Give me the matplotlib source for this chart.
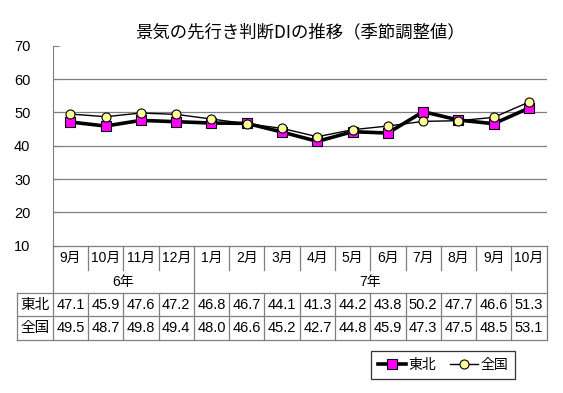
import matplotlib.pyplot as plt
from matplotlib.lines import Line2D
import matplotlib.transforms as mtransforms

plt.rcParams['font.family'] = ['Liberation Sans', 'Noto Sans CJK JP']

months = ['9月', '10月', '11月', '12月', '1月', '2月', '3月', '4月',
          '5月', '6月', '7月', '8月', '9月', '10月']
years = ['6年', '7年']
year_spans = [(0, 3), (4, 13)]
tohoku = [47.1, 45.9, 47.6, 47.2, 46.8, 46.7, 44.1, 41.3, 44.2, 43.8, 50.2, 47.7, 46.6, 51.3]
zenkoku = [49.5, 48.7, 49.8, 49.4, 48.0, 46.6, 45.2, 42.7, 44.8, 45.9, 47.3, 47.5, 48.5, 53.1]
series_names = ['東北', '全国']

grid_c = '#7f7f7f'

fig = plt.figure(figsize=(5.63, 3.93), dpi=100)
ax = fig.add_axes([0.0936, 0.3748, 0.8774, 0.5089])

x = list(range(len(months)))
ax.plot(x, tohoku, color='black', lw=2.6, marker='s', ms=6.5,
        mfc='#ff00ff', mec='black', mew=0.8, zorder=3)
ax.plot(x, zenkoku, color='black', lw=1.0, marker='o', ms=6.5,
        mfc='#ffff99', mec='black', mew=0.8, zorder=4)

ax.set_xlim(-0.5, len(months) - 0.5)
ax.set_ylim(10, 70)
ax.set_yticks(range(10, 71, 10))
ax.set_xticks([])
for s in ['top', 'right', 'bottom']:
    ax.spines[s].set_visible(False)
ax.spines['left'].set_color(grid_c)
ax.tick_params(axis='y', direction='in', length=4, color=grid_c,
               labelsize=10.5, pad=16)
for v in range(20, 70, 10):
    ax.axhline(v, color=grid_c, lw=0.9, zorder=1)

ax.set_title('景気の先行き判断DIの推移（季節調整値）', fontsize=12.5,
             family=['Noto Sans CJK JP'], pad=6)

# category / data table below the plot
tr = mtransforms.blended_transform_factory(ax.transData, ax.transAxes)
n = len(months)
y_month, y_sep, y_year = -0.0615, -0.1215, -0.18
y_top, y_mid, y_bot = -0.238, -0.35, -0.469
y_row1, y_row2 = -0.294, -0.409
fs = 10.5

def hline(y, x0, x1):
    ax.plot([x0, x1], [y, y], color=grid_c, lw=0.9, transform=tr, clip_on=False)

def vline(xv, y0, y1):
    ax.plot([xv, xv], [y0, y1], color=grid_c, lw=0.9, transform=tr, clip_on=False)

hline(0, -0.5, n - 0.5)
hline(y_top, -1.5, n - 0.5)
hline(y_mid, -1.5, n - 0.5)
hline(y_bot, -1.5, n - 0.5)
vline(-1.5, y_top, y_bot)
vline(-0.5, 0, y_bot)
vline(n - 0.5, 0, y_bot)
for k in range(1, n):
    vline(k - 0.5, y_top, y_bot)
    if k == year_spans[1][0]:
        vline(k - 0.5, 0, y_top)
    else:
        vline(k - 0.5, 0, y_sep)

for i, m in enumerate(months):
    ax.text(i, y_month, m, ha='center', va='center', fontsize=10, transform=tr)
    ax.text(i, y_row1, f'{tohoku[i]:.1f}', ha='center', va='center', fontsize=fs, transform=tr)
    ax.text(i, y_row2, f'{zenkoku[i]:.1f}', ha='center', va='center', fontsize=fs, transform=tr)
for yl, (a, b) in zip(years, year_spans):
    ax.text((a + b) / 2, y_year, yl, ha='center', va='center', fontsize=10, transform=tr)
ax.text(-1, y_row1, series_names[0], ha='center', va='center', fontsize=10.5, transform=tr)
ax.text(-1, y_row2, series_names[1], ha='center', va='center', fontsize=10.5, transform=tr)

handles = [
    Line2D([], [], color='black', lw=2.6, marker='s', ms=6.5, mfc='#ff00ff', mec='black', mew=0.8),
    Line2D([], [], color='black', lw=1.0, marker='o', ms=6.5, mfc='#ffff99', mec='black', mew=0.8),
]
leg = fig.legend(handles, series_names, loc='center', bbox_to_anchor=(0.787, 0.0712),
                 ncol=2, fontsize=10, frameon=True, fancybox=False, handlelength=2.0,
                 handletextpad=0.2, columnspacing=1.0, borderpad=0.5)
leg.get_frame().set_edgecolor('black')
leg.get_frame().set_linewidth(0.9)

fig.savefig('out.png', dpi=100)
